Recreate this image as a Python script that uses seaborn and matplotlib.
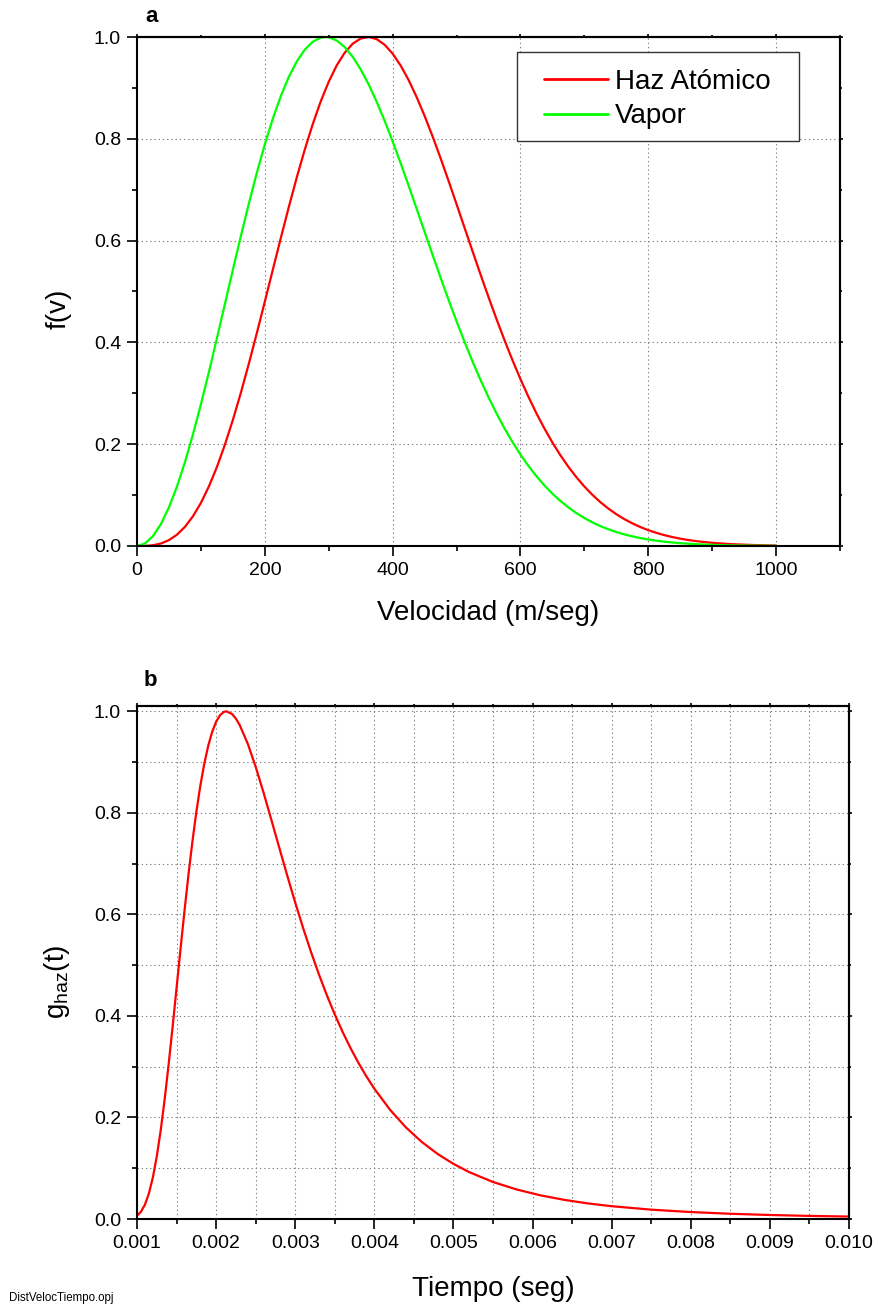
import matplotlib
matplotlib.use("Agg")
import matplotlib.pyplot as plt
import seaborn as sns
import pandas as pd
from matplotlib.patches import Rectangle
from matplotlib.ticker import MultipleLocator, FormatStrFormatter

# ---------------- data ----------------
vapor_v = [0, 12.5, 25, 37.5, 50, 62.5, 75, 87.5, 100, 112.5, 125, 137.5, 150, 162.5,
           175, 187.5, 200, 212.5, 225, 237.5, 250, 262.5, 275, 287.5, 295, 300, 312.5,
           325, 337.5, 350, 362.5, 375, 387.5, 400, 412.5, 425, 437.5, 450, 462.5, 475,
           487.5, 500, 512.5, 525, 537.5, 550, 562.5, 575, 587.5, 600, 612.5, 625, 637.5,
           650, 662.5, 675, 687.5, 700, 712.5, 725, 737.5, 750, 762.5, 775, 787.5, 800,
           812.5, 825, 837.5, 850, 862.5, 875, 887.5, 900, 912.5, 925, 937.5, 950, 962.5,
           975, 987.5, 1000]
vapor_f = [0.0, 0.0049, 0.0194, 0.0432, 0.0759, 0.1167, 0.1647, 0.2190, 0.2785, 0.3418,
           0.4079, 0.4752, 0.5427, 0.6090, 0.6728, 0.7332, 0.7891, 0.8395, 0.8838, 0.9215,
           0.9520, 0.9751, 0.9906, 0.9987, 1.0000, 0.9994, 0.9931, 0.9802, 0.9611, 0.9364,
           0.9068, 0.8728, 0.8353, 0.7949, 0.7522, 0.7080, 0.6628, 0.6173, 0.5720, 0.5273,
           0.4837, 0.4415, 0.4011, 0.3626, 0.3263, 0.2923, 0.2606, 0.2312, 0.2043, 0.1796,
           0.1573, 0.1371, 0.1190, 0.1028, 0.0885, 0.0758, 0.0646, 0.0549, 0.0464, 0.0391,
           0.0328, 0.0274, 0.0228, 0.0189, 0.0156, 0.0128, 0.0105, 0.0085, 0.0069, 0.0056,
           0.0045, 0.0036, 0.0029, 0.0023, 0.0018, 0.0014, 0.0011, 0.0009, 0.0007, 0.0005,
           0.0004, 0.0003]

haz_v = [0, 12.5, 25, 37.5, 50, 62.5, 75, 87.5, 100, 112.5, 125, 137.5, 150, 162.5,
         175, 187.5, 200, 212.5, 225, 237.5, 250, 262.5, 275, 287.5, 300, 312.5, 325,
         337.5, 350, 362.5, 375, 387.5, 400, 412.5, 425, 437.5, 450, 462.5, 475, 487.5,
         500, 512.5, 525, 537.5, 550, 562.5, 575, 587.5, 600, 612.5, 625, 637.5, 650,
         662.5, 675, 687.5, 700, 712.5, 725, 737.5, 750, 762.5, 775, 787.5, 800, 812.5,
         825, 837.5, 850, 862.5, 875, 887.5, 900, 912.5, 925, 937.5, 950, 962.5, 975,
         987.5, 1000]
haz_f = [0.0, 0.0002, 0.0015, 0.0049, 0.0115, 0.0222, 0.0376, 0.0583, 0.0847, 0.1170,
         0.1551, 0.1988, 0.2477, 0.3010, 0.3582, 0.4182, 0.4801, 0.5427, 0.6050, 0.6658,
         0.7241, 0.7787, 0.8288, 0.8735, 0.9121, 0.9442, 0.9691, 0.9868, 0.9971, 1.0000,
         0.9958, 0.9847, 0.9673, 0.9440, 0.9154, 0.8822, 0.8451, 0.8048, 0.7620, 0.7174,
         0.6716, 0.6254, 0.5792, 0.5336, 0.4890, 0.4459, 0.4045, 0.3651, 0.3279, 0.2931,
         0.2607, 0.2308, 0.2033, 0.1783, 0.1556, 0.1352, 0.1169, 0.1006, 0.0862, 0.0736,
         0.0625, 0.0528, 0.0445, 0.0373, 0.0311, 0.0259, 0.0214, 0.0176, 0.0145, 0.0118,
         0.0096, 0.0078, 0.0063, 0.0051, 0.0040, 0.0032, 0.0026, 0.0020, 0.0016, 0.0012,
         0.0010]

tiempo = [0.00100, 0.00105, 0.00110, 0.00115, 0.00120, 0.00125, 0.00130, 0.00135,
          0.00140, 0.00145, 0.00150, 0.00155, 0.00160, 0.00165, 0.00170, 0.00175,
          0.00180, 0.00185, 0.00190, 0.00195, 0.00200, 0.00205, 0.00210, 0.00213,
          0.00220, 0.00225, 0.00230, 0.00240, 0.00250, 0.00260, 0.00270, 0.00280,
          0.00290, 0.00300, 0.00310, 0.00320, 0.00330, 0.00340, 0.00350, 0.00360,
          0.00370, 0.00380, 0.00390, 0.00400, 0.00420, 0.00440, 0.00460, 0.00480,
          0.00500, 0.00520, 0.00550, 0.00580, 0.00610, 0.00640, 0.00670, 0.00700,
          0.00750, 0.00800, 0.00850, 0.00900, 0.00950, 0.01000]
g_haz = [0.0063, 0.0143, 0.0282, 0.0501, 0.0815, 0.1232, 0.1751, 0.2361, 0.3047, 0.3784,
         0.4549, 0.5317, 0.6065, 0.6775, 0.7429, 0.8017, 0.8530, 0.8964, 0.9319, 0.9595,
         0.9795, 0.9925, 0.9990, 1.0000, 0.9949, 0.9857, 0.9724, 0.9362, 0.8908, 0.8396,
         0.7854, 0.7304, 0.6760, 0.6233, 0.5731, 0.5258, 0.4817, 0.4407, 0.4029, 0.3682,
         0.3364, 0.3073, 0.2808, 0.2567, 0.2148, 0.1803, 0.1517, 0.1281, 0.1086, 0.0923,
         0.0729, 0.0581, 0.0466, 0.0377, 0.0307, 0.0252, 0.0184, 0.0137, 0.0103, 0.0079,
         0.0061, 0.0048]

series_labels = ["Haz Atómico", "Vapor"]
series_colors = ["#ff0000", "#00ff00"]

# ---------------- style ----------------
sns.set_theme(style="white")
plt.rcParams["font.family"] = ["Liberation Sans", "DejaVu Sans"]
plt.rcParams["mathtext.fontset"] = "custom"
plt.rcParams["mathtext.rm"] = "Liberation Sans"
plt.rcParams["mathtext.it"] = "Liberation Sans"
plt.rcParams["axes.edgecolor"] = "black"
plt.rcParams["axes.linewidth"] = 1.5
plt.rcParams["text.color"] = "black"
plt.rcParams["axes.labelcolor"] = "black"
plt.rcParams["xtick.color"] = "black"
plt.rcParams["ytick.color"] = "black"
plt.rcParams["legend.labelcolor"] = "black"

fig = plt.figure(figsize=(8.79, 13.10), dpi=100)
ax1 = fig.add_axes([137 / 879, 1 - 546 / 1310, (840 - 137) / 879, (546 - 37) / 1310])
ax2 = fig.add_axes([137 / 879, 1 - 1219 / 1310, (849 - 137) / 879, (1219 - 706) / 1310])

grid_kw = dict(color="#808080", linewidth=0.8, linestyle=(0, (1.2, 2.6)))


def style_axis(ax):
    # bottom / left: clear outward ticks
    ax.tick_params(axis="both", which="major", direction="out", length=7.5, width=1.2,
                   labelsize=14, pad=4, color="black", labelcolor="black",
                   bottom=True, left=True, top=False, right=False)
    ax.tick_params(axis="both", which="minor", direction="out", length=3.8, width=1.2,
                   bottom=True, left=True, top=False, right=False, color="black")
    for s in ax.spines.values():
        s.set_visible(True)
        s.set_linewidth(1.5)
        s.set_color("black")
    # top / right: small mirrored ticks
    sx = ax.secondary_xaxis("top")
    sx.set_xticks(ax.get_xticks(minor=False))
    sx.set_xticks(ax.get_xticks(minor=True), minor=True)
    sx.tick_params(which="major", direction="out", length=2.5, width=1.2, labeltop=False)
    sx.tick_params(which="minor", direction="out", length=1.5, width=1.2)
    sx.spines["top"].set_linewidth(1.5)
    sy = ax.secondary_yaxis("right")
    sy.set_yticks(ax.get_yticks(minor=False))
    sy.set_yticks(ax.get_yticks(minor=True), minor=True)
    sy.tick_params(which="major", direction="out", length=2.5, width=1.2, labelright=False)
    sy.tick_params(which="minor", direction="out", length=1.5, width=1.2)
    sy.spines["right"].set_linewidth(1.5)


# ---------------- panel a ----------------
df_haz = pd.DataFrame({"v": haz_v, "f": haz_f})
df_vap = pd.DataFrame({"v": vapor_v, "f": vapor_f})
sns.lineplot(data=df_haz, x="v", y="f", ax=ax1, color=series_colors[0], linewidth=1.6,
             label=series_labels[0], sort=False, estimator=None)
sns.lineplot(data=df_vap, x="v", y="f", ax=ax1, color=series_colors[1], linewidth=1.6,
             label=series_labels[1], sort=False, estimator=None)
ax1.set_xlim(0, 1100)
ax1.set_ylim(0, 1.0)
ax1.set_xticks([0, 200, 400, 600, 800, 1000])
ax1.xaxis.set_minor_locator(MultipleLocator(100))
ax1.yaxis.set_major_locator(MultipleLocator(0.2))
ax1.yaxis.set_minor_locator(MultipleLocator(0.1))
ax1.yaxis.set_major_formatter(FormatStrFormatter("%.1f"))
ax1.grid(True, which="major", **grid_kw)
style_axis(ax1)
ax1.set_xlabel("Velocidad (m/seg)", fontsize=20, va="center", color="black")
ax1.xaxis.set_label_coords(0.5, -0.131)
ax1.set_ylabel("f(v)", fontsize=20, va="center", color="black")
ax1.yaxis.set_label_coords(-0.112, 0.466)

# legend frame drawn as a rectangle, entries placed inside it
ax1.add_patch(Rectangle((0.5405, 0.7957), 0.4011, 0.1749, transform=ax1.transAxes,
                        facecolor="white", edgecolor="#333333", linewidth=1.0, zorder=4))
leg = ax1.legend(loc="upper left", bbox_to_anchor=(0.579, 0.937), frameon=False,
                 fontsize=20, handlelength=2.3, handletextpad=0.25, borderpad=0.0,
                 labelspacing=0.3, borderaxespad=0.0, labelcolor="black")
leg.set_zorder(5)
for ln in leg.get_lines():
    ln.set_linewidth(2.0)
ax1.text(152 / 879, 1 - 16 / 1310, "a", transform=fig.transFigure, fontsize=16,
         fontweight="bold", ha="center", va="center", color="black")

# ---------------- panel b ----------------
df_t = pd.DataFrame({"t": tiempo, "g": g_haz})
sns.lineplot(data=df_t, x="t", y="g", ax=ax2, color=series_colors[0], linewidth=1.6,
             sort=False, estimator=None)
ax2.set_xlim(0.001, 0.010)
ax2.set_ylim(0, 1.0105)
ax2.xaxis.set_major_locator(MultipleLocator(0.001))
ax2.xaxis.set_minor_locator(MultipleLocator(0.0005))
ax2.xaxis.set_major_formatter(FormatStrFormatter("%.3f"))
ax2.yaxis.set_major_locator(MultipleLocator(0.2))
ax2.yaxis.set_minor_locator(MultipleLocator(0.1))
ax2.yaxis.set_major_formatter(FormatStrFormatter("%.1f"))
ax2.grid(True, which="both", **grid_kw)
style_axis(ax2)
ax2.set_xlabel("Tiempo (seg)", fontsize=20, va="center", color="black")
ax2.xaxis.set_label_coords(0.5, -0.136)
ax2.set_ylabel(r"$\mathregular{g_{haz}(t)}$", fontsize=20, va="center", color="black")
ax2.yaxis.set_label_coords(-0.112, 0.462)
ax2.text(150 / 879, 1 - 681 / 1310, "b", transform=fig.transFigure, fontsize=16,
         fontweight="bold", ha="center", va="center", color="black")

fig.text(9 / 879, 1 - 1298 / 1310, "DistVelocTiempo.opj", fontsize=8.3,
         ha="left", va="center", color="black")

fig.savefig("out.png", dpi=100, facecolor="white")
